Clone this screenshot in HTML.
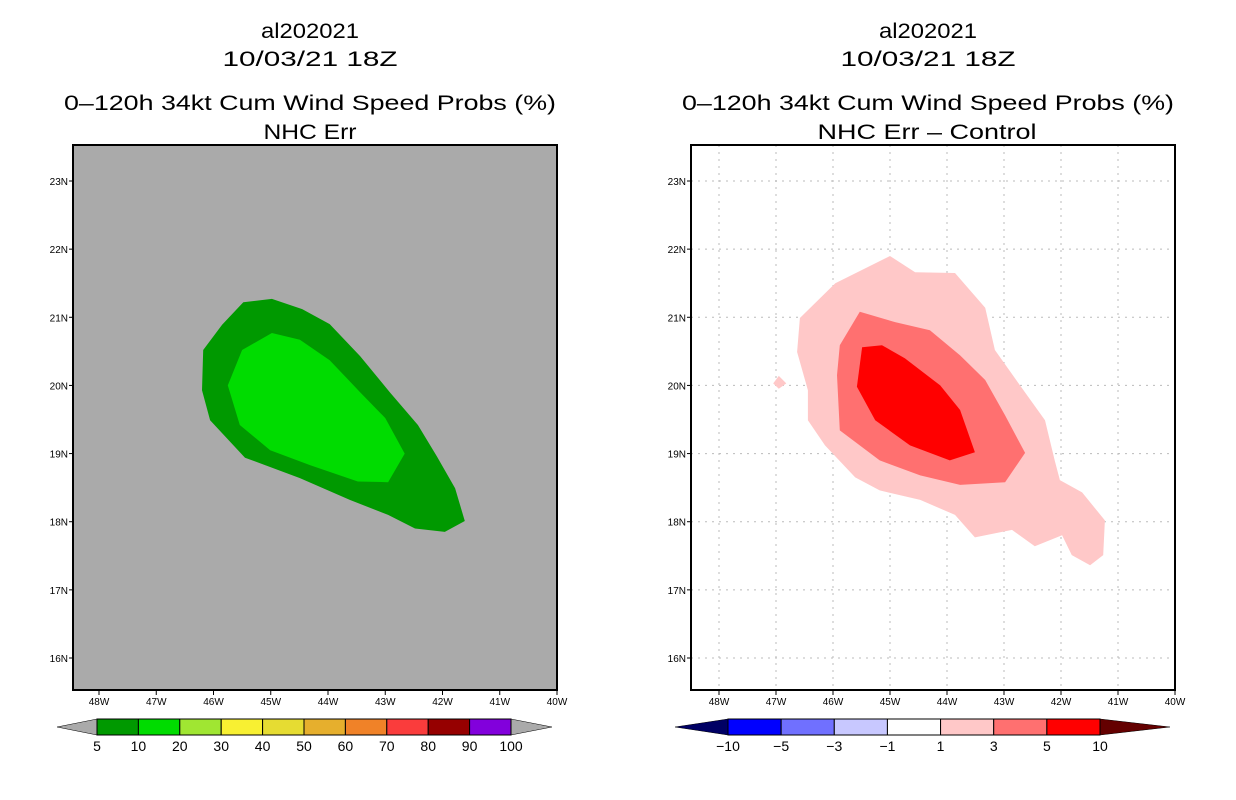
<!DOCTYPE html>
<html><head><meta charset="utf-8"><style>
html,body{margin:0;padding:0;background:#fff;}
svg{display:block;font-family:"Liberation Sans",sans-serif;}
.t{font-size:21px;text-anchor:middle;fill:#000;}
.tk{font-size:10px;fill:#000;}
.cb{font-size:14px;text-anchor:middle;fill:#000;}
</style></head><body>
<svg id="s" width="1236" height="800" viewBox="0 0 1236 800">
<g>
<text class="t" x="310" y="38" textLength="98" lengthAdjust="spacingAndGlyphs">al202021</text>
<text class="t" x="310" y="66" textLength="175" lengthAdjust="spacingAndGlyphs">10/03/21 18Z</text>
<text class="t" x="310" y="110" textLength="492" lengthAdjust="spacingAndGlyphs">0–120h 34kt Cum Wind Speed Probs (%)</text>
<text class="t" x="310" y="139" textLength="93" lengthAdjust="spacingAndGlyphs">NHC Err</text>
</g>
<g>
<text class="t" x="928" y="38" textLength="98" lengthAdjust="spacingAndGlyphs">al202021</text>
<text class="t" x="928" y="66" textLength="175" lengthAdjust="spacingAndGlyphs">10/03/21 18Z</text>
<text class="t" x="928" y="110" textLength="492" lengthAdjust="spacingAndGlyphs">0–120h 34kt Cum Wind Speed Probs (%)</text>
<text class="t" x="927" y="139" textLength="219" lengthAdjust="spacingAndGlyphs">NHC Err – Control</text>
</g>
<g id="L"></g>
<g id="R"></g>
<g id="CL"></g>
<g id="CR"></g>
</svg>
<script>
const lonTicks=[-48,-47,-46,-45,-44,-43,-42,-41,-40];
const latTicks=[16,17,18,19,20,21,22,23];
const leftLevels=["5","10","20","30","40","50","60","70","80","90","100"];
const leftColors=["#009900","#00dc00","#a0e632","#f8f032","#e6dc32","#e6af2d","#f08228","#fa3c3c","#960000","#8200dc"];
const rightLevels=["−10","−5","−3","−1","1","3","5","10"];
const rightColors=["#0000ff","#7070ff","#c8c8ff","#ffffff","#ffc8c8","#ff7070","#ff0000"];
const leftOuter=[[-45.48,21.22],[-44.98,21.27],[-44.45,21.12],[-43.97,20.90],[-43.44,20.43],[-42.92,19.90],[-42.43,19.42],[-42.10,18.96],[-41.78,18.49],[-41.61,18.01],[-41.96,17.85],[-42.48,17.90],[-42.95,18.10],[-43.62,18.32],[-44.49,18.64],[-45.45,18.94],[-46.06,19.49],[-46.20,19.93],[-46.18,20.52],[-45.85,20.89]];
const leftInner=[[-44.98,20.77],[-44.49,20.67],[-43.97,20.37],[-43.44,19.90],[-43.00,19.52],[-42.66,19.00],[-42.95,18.58],[-43.48,18.59],[-44.31,18.83],[-45.01,19.05],[-45.54,19.42],[-45.75,20.00],[-45.50,20.52]];
const rightPink=[[-45.96,21.50],[-45.00,21.90],[-44.56,21.66],[-43.86,21.65],[-43.33,21.14],[-43.16,20.52],[-42.72,20.00],[-42.28,19.49],[-42.11,18.90],[-42.02,18.61],[-41.63,18.43],[-41.23,18.02],[-41.26,17.51],[-41.49,17.36],[-41.81,17.51],[-41.98,17.80],[-42.46,17.64],[-42.86,17.88],[-43.51,17.77],[-43.86,18.10],[-44.47,18.32],[-45.18,18.46],[-45.61,18.65],[-46.14,19.12],[-46.44,19.49],[-46.44,19.93],[-46.63,20.49],[-46.58,20.99]];
const rightDot=[[-47.05,20.03],[-46.95,20.14],[-46.82,20.03],[-46.95,19.95]];
const rightMid=[[-45.53,21.08],[-44.91,20.93],[-44.30,20.81],[-43.77,20.44],[-43.33,20.08],[-42.98,19.56],[-42.63,19.01],[-42.98,18.58],[-43.77,18.54],[-44.47,18.68],[-45.18,18.90],[-45.88,19.34],[-45.93,20.15],[-45.88,20.59]];
const rightRed=[[-45.49,20.56],[-45.14,20.59],[-44.74,20.40],[-44.12,20.00],[-43.77,19.64],[-43.51,19.02],[-43.95,18.90],[-44.65,19.12],[-45.26,19.49],[-45.58,19.98]];
const NS="http://www.w3.org/2000/svg";
function mk(p,tag,attrs){const e=document.createElementNS(NS,tag);for(const k in attrs)e.setAttribute(k,attrs[k]);p.appendChild(e);return e;}
function drawMap(g,x0,x1,x48,x40,bg,grid,polys){
  const y0=145,y1=690;
  const X=lon=>x48+(lon+48)*(x40-x48)/8;
  const Y=lat=>181+(23-lat)*(658-181)/7;
  const r=mk(g,'rect',{x:x0,y:y0,width:x1-x0,height:y1-y0,fill:bg});
  
  
  if(grid){
    lonTicks.forEach(l=>{const ln=mk(g,'line',{x1:X(l),x2:X(l),y1:y0,y2:y1,stroke:'#bbb','stroke-dasharray':'2,5'});
      
      });
    latTicks.forEach(l=>{const ln=mk(g,'line',{x1:x0,x2:x1,y1:Y(l),y2:Y(l),stroke:'#bbb','stroke-dasharray':'2,5'});
      
      });
  }
  polys.forEach(([pts,col,nm])=>{const p=mk(g,'polygon',{points:pts.map(q=>X(q[0]).toFixed(1)+','+Y(q[1]).toFixed(1)).join(' '),fill:col});
    
    });
  const f=mk(g,'rect',{x:x0,y:y0,width:x1-x0,height:y1-y0,fill:'none',stroke:'#000','stroke-width':2});
  
  
  lonTicks.forEach(l=>{mk(g,'line',{x1:X(l),x2:X(l),y1:y1,y2:y1+5,stroke:'#000'});
    const t=mk(g,'text',{class:'tk',x:X(l),y:y1+15,'text-anchor':'middle'});t.textContent=Math.abs(l)+'W';
    
    });
  latTicks.forEach(l=>{mk(g,'line',{x1:x0-4,x2:x0,y1:Y(l),y2:Y(l),stroke:'#000'});
    const t=mk(g,'text',{class:'tk',x:x0-5,y:Y(l)+4,'text-anchor':'end'});t.textContent=l+'N';
    
    });
}
drawMap(document.getElementById('L'),73,557,99,557,'#aaaaaa',false,[[leftOuter,'#009900','contour-5-10'],[leftInner,'#00dc00','contour-10-20']]);
drawMap(document.getElementById('R'),691,1175,719,1175,'#ffffff',true,[[rightPink,'#ffc8c8','contour-1-3'],[rightDot,'#ffc8c8','contour-1-3-dot'],[rightMid,'#ff7070','contour-3-5'],[rightRed,'#ff0000','contour-5-10']]);
function drawBar(g,xl,xa,xb,xr,cols,labs,lc,rc){
  const y0=719,y1=735,ym=727,w=(xb-xa)/cols.length;
  const a=mk(g,'polygon',{points:`${xl},${ym} ${xa},${y0} ${xa},${y1}`,fill:lc,stroke:'#000','stroke-width':0.5});
  
  
  const b=mk(g,'polygon',{points:`${xr},${ym} ${xb},${y0} ${xb},${y1}`,fill:rc,stroke:'#000','stroke-width':0.5});
  
  
  cols.forEach((c,i)=>{const r=mk(g,'rect',{x:xa+i*w,y:y0,width:w,height:y1-y0,fill:c,stroke:'#000','stroke-width':1});
    
    });
  labs.forEach((l,i)=>{const t=mk(g,'text',{class:'cb',x:xa+i*w,y:751});t.textContent=l;
    
    });
}
drawBar(document.getElementById('CL'),57,97,511,552,leftColors,leftLevels,'#aaaaaa','#aaaaaa');
drawBar(document.getElementById('CR'),675,728,1100,1170,rightColors,rightLevels,'#000064','#640000');
</script>
</body></html>
